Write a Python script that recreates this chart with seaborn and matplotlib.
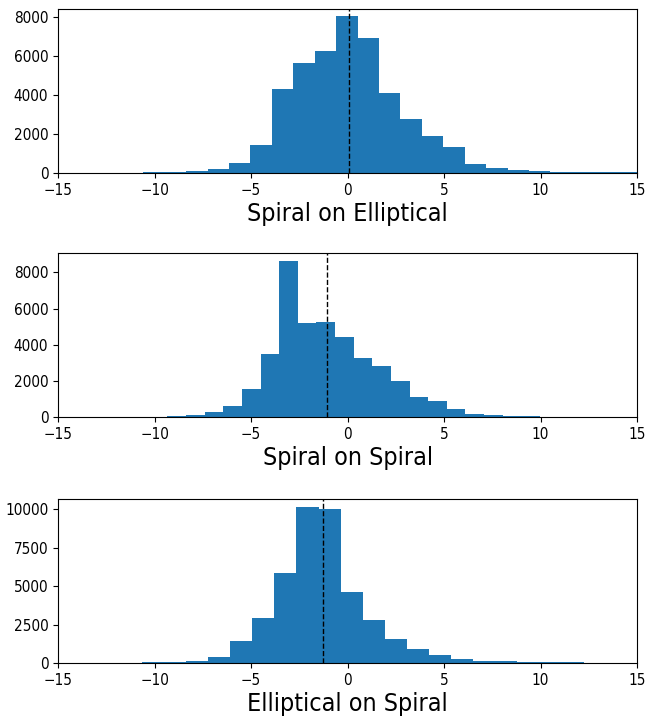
import numpy as np
import pandas as pd
import matplotlib
matplotlib.use("Agg")
import matplotlib.pyplot as plt
import seaborn as sns

# panel titles (shown as x labels)
titles = ["Spiral on Elliptical", "Spiral on Spiral", "Elliptical on Spiral"]

# bin edges and counts
edges_se = [-10.58, -9.47, -8.36, -7.25, -6.14, -5.03, -3.92, -2.81, -1.70, -0.59,
            0.52, 1.63, 2.74, 3.85, 4.96, 6.07, 7.18, 8.29, 9.40, 10.51,
            11.62, 12.73, 13.84, 14.95, 16.06]
counts_se = [55, 60, 100, 190, 500, 1425, 4290, 5650, 6270, 8050,
             6920, 4100, 2780, 1890, 1340, 460, 260, 150, 85, 60,
             55, 55, 55, 55]

edges_ss = [-9.34, -8.37, -7.41, -6.44, -5.48, -4.51, -3.55, -2.58, -1.62, -0.65,
            0.31, 1.28, 2.24, 3.21, 4.17, 5.14, 6.10, 7.07, 8.03, 9.00, 9.96]
counts_ss = [60, 110, 280, 650, 1550, 3470, 8630, 5210, 5280, 4420,
             3250, 2830, 1980, 1130, 920, 440, 170, 110, 65, 60]

edges_es = [-10.66, -9.52, -8.37, -7.23, -6.08, -4.94, -3.79, -2.65, -1.50, -0.36,
            0.79, 1.93, 3.08, 4.22, 5.37, 6.51, 7.66, 8.80, 9.95, 11.09, 12.24]
counts_es = [70, 75, 130, 430, 1470, 2920, 5840, 10150, 10000, 4650,
             2790, 1600, 910, 560, 280, 170, 120, 80, 70, 70]

# dashed reference lines (means)
means = [0.08, -1.08, -1.27]

x_ticks = [-15, -10, -5, 0, 5, 10, 15]

plt.rcParams["font.family"] = ["DejaVu Sans"]
plt.rcParams["font.stretch"] = "condensed"

fig = plt.figure(figsize=(6.47, 7.17), dpi=100)
panel_bottoms = [0.759, 0.418, 0.075]
panels = [(edges_se, counts_se), (edges_ss, counts_ss), (edges_es, counts_es)]

for bottom, (edges, counts), title, m in zip(panel_bottoms, panels, titles, means):
    ax = fig.add_axes([0.0897, bottom, 0.895, 0.229])
    centers = [(a + b) / 2 for a, b in zip(edges[:-1], edges[1:])]
    df = pd.DataFrame({"x": centers, "w": counts})
    sns.histplot(data=df, x="x", weights="w", bins=edges, color="#1f77b4",
                 alpha=1, linewidth=0, ax=ax)
    ax.axvline(m, color="black", ls="--", lw=1)
    ax.set_xlim(-15, 15)
    ax.set_xticks(x_ticks)
    ax.tick_params(labelsize=11)
    ax.set_ylabel("")
    ax.set_xlabel(title, fontsize=18, labelpad=3)

fig.savefig("out.png", dpi=100)
